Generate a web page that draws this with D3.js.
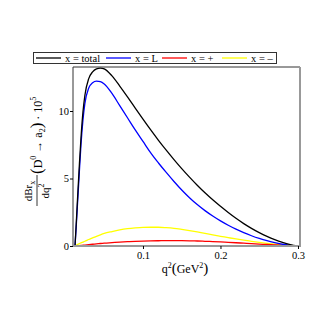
<!DOCTYPE html>
<html>
<head>
<meta charset="utf-8">
<script src="https://cdn.jsdelivr.net/npm/d3@7"></script>
<style>
  html, body { margin: 0; padding: 0; background: #fff; }
  svg text { font-family: "Liberation Serif", "DejaVu Serif", serif; }
</style>
</head>
<body>
<svg id="chart" width="327" height="327"></svg>
<script>
// q^2 in GeV^2
const q2 = [0.0123, 0.014, 0.016, 0.018, 0.02, 0.0225, 0.025, 0.03, 0.035, 0.04, 0.045, 0.05,
  0.06, 0.07, 0.08, 0.09, 0.1, 0.11, 0.12, 0.13, 0.14, 0.15, 0.16, 0.17, 0.18, 0.19, 0.2,
  0.21, 0.22, 0.23, 0.24, 0.25, 0.26, 0.27, 0.28, 0.29, 0.3];

const totalVals = [0, 1.8, 4.0, 6.1, 8.0, 9.9, 11.15, 12.4, 12.9, 13.12, 13.18, 13.12,
  12.6, 11.85, 11.05, 10.22, 9.4, 8.6, 7.83, 7.1, 6.4, 5.73, 5.1, 4.5, 3.94, 3.42, 2.94,
  2.48, 2.05, 1.66, 1.31, 0.99, 0.71, 0.47, 0.27, 0.11, 0];
const longVals = [0, 1.6, 3.6, 5.6, 7.5, 9.3, 10.55, 11.7, 12.1, 12.22, 12.18, 12.0,
  11.3, 10.4, 9.5, 8.6, 7.75, 6.9, 6.15, 5.45, 4.78, 4.15, 3.58, 3.07, 2.62, 2.22, 1.86,
  1.54, 1.25, 0.99, 0.76, 0.56, 0.39, 0.25, 0.13, 0.05, 0];
const plusVals = [0, 0.01, 0.02, 0.03, 0.04, 0.055, 0.07, 0.1, 0.13, 0.16, 0.185, 0.21,
  0.25, 0.29, 0.32, 0.345, 0.365, 0.38, 0.39, 0.4, 0.4, 0.395, 0.385, 0.37, 0.35, 0.325, 0.3,
  0.27, 0.24, 0.21, 0.175, 0.14, 0.11, 0.08, 0.05, 0.025, 0];
const minusVals = [0, 0.07, 0.13, 0.18, 0.23, 0.29, 0.35, 0.48, 0.6, 0.72, 0.83, 0.93,
  1.07, 1.19, 1.28, 1.34, 1.38, 1.39, 1.39, 1.36, 1.31, 1.23, 1.14, 1.04, 0.93, 0.82, 0.72,
  0.62, 0.52, 0.43, 0.35, 0.27, 0.2, 0.14, 0.09, 0.04, 0];

const seriesNames = ["x = total", "x = L", "x = +", "x = \u2013"];
const seriesColors = ["#000000", "#0000ff", "#ff0000", "#ffff00"];
const xTicks = [0.1, 0.2, 0.3];
const yTicks = [0, 5, 10];

const svg = d3.select("#chart");
const mLeft = 73, mRight = 300, mTop = 67, mBottom = 246;

const x = d3.scaleLinear().domain([0.0097, 0.3026]).range([mLeft, mRight]);
const y = d3.scaleLinear().domain([0, 13.26]).range([mBottom, mTop]);

// curves, yellow first so black ends on top
const allSeries = [totalVals, longVals, plusVals, minusVals];
const line = d3.line()
  .x((d, i) => x(q2[i]))
  .y(d => y(d))
  .curve(d3.curveMonotoneX);

[3, 2, 1, 0].forEach(k => {
  svg.append("path")
    .datum(allSeries[k])
    .attr("d", line)
    .attr("fill", "none")
    .attr("stroke", seriesColors[k])
    .attr("stroke-width", 1.3);
});

// frame
svg.append("line").attr("x1", mLeft).attr("x2", mRight).attr("y1", mTop).attr("y2", mTop)
  .attr("stroke", "#333").attr("stroke-width", 1);
svg.append("line").attr("x1", mLeft).attr("x2", mLeft).attr("y1", mTop).attr("y2", mBottom)
  .attr("stroke", "#333").attr("stroke-width", 1);
svg.append("line").attr("x1", mRight).attr("x2", mRight).attr("y1", mTop).attr("y2", mBottom + 1)
  .attr("stroke", "#999").attr("stroke-width", 2);
svg.append("line").attr("x1", mLeft).attr("x2", mRight + 1).attr("y1", mBottom).attr("y2", mBottom)
  .attr("stroke", "#999").attr("stroke-width", 2);

// axes
const yAxis = svg.append("g")
  .attr("transform", `translate(${mLeft},0)`)
  .call(d3.axisLeft(y).tickValues(yTicks).tickSize(3).tickSizeOuter(0).tickPadding(1));
yAxis.select(".domain").remove();
yAxis.selectAll("text").style("font-size", "10.5px").style("font-family", "Liberation Serif, serif");

const xAxis = svg.append("g")
  .attr("transform", `translate(0,${mBottom})`)
  .call(d3.axisBottom(x).tickValues(xTicks).tickFormat(d3.format(".1f")).tickSize(3).tickSizeOuter(0).tickPadding(3));
xAxis.select(".domain").remove();
xAxis.selectAll("text").style("font-size", "10.5px").style("font-family", "Liberation Serif, serif");

// x label
const xl = svg.append("text").attr("x", 185).attr("y", 273).attr("text-anchor", "middle")
  .style("font-size", "12px");
xl.append("tspan").text("q");
xl.append("tspan").attr("dy", -5).style("font-size", "8px").text("2");
xl.append("tspan").attr("dy", 5).style("font-size", "15px").text("(");
xl.append("tspan").text("GeV");
xl.append("tspan").attr("dy", -5).style("font-size", "8px").text("2");
xl.append("tspan").attr("dy", 5).style("font-size", "15px").text(")");

// y label
const yl = svg.append("g").attr("transform", "translate(37,206) rotate(-90)");
const num = yl.append("text").attr("x", 15).attr("y", -5).attr("text-anchor", "middle")
  .style("font-size", "11px");
num.append("tspan").text("dBr");
num.append("tspan").attr("dy", 2.5).style("font-size", "8px").text("x");
yl.append("line").attr("x1", 0).attr("x2", 31).attr("y1", 0).attr("y2", 0)
  .attr("stroke", "#000").attr("stroke-width", 0.8);
const den = yl.append("text").attr("x", 15).attr("y", 12).attr("text-anchor", "middle")
  .style("font-size", "11px");
den.append("tspan").text("dq");
den.append("tspan").attr("dy", -5).style("font-size", "8px").text("2");
const rest = yl.append("text").attr("x", 32).attr("y", 5).style("font-size", "12px");
rest.append("tspan").style("font-size", "17px").text("(");
rest.append("tspan").text("D");
rest.append("tspan").attr("dy", -6).style("font-size", "8px").text("0");
rest.append("tspan").attr("dy", 6).text(" \u2192 a");
rest.append("tspan").attr("dy", 3).style("font-size", "8px").text("2");
rest.append("tspan").attr("dy", -3).style("font-size", "17px").text(")");
rest.append("tspan").text(" \u00b7 10");
rest.append("tspan").attr("dy", -6).style("font-size", "8px").text("5");

// legend
svg.append("rect").attr("x", 33.5).attr("y", 52.5).attr("width", 243).attr("height", 11)
  .attr("fill", "#fff").attr("stroke", "#333").attr("stroke-width", 1);
const legX = [36, 106, 162, 222];
seriesNames.forEach((name, k) => {
  svg.append("line").attr("x1", legX[k]).attr("x2", legX[k] + 25)
    .attr("y1", 58).attr("y2", 58)
    .attr("stroke", seriesColors[k]).attr("stroke-width", 1.3);
  svg.append("text").attr("x", legX[k] + 29).attr("y", 61.5)
    .style("font-size", "10.5px").text(name);
});
</script>
</body>
</html>
